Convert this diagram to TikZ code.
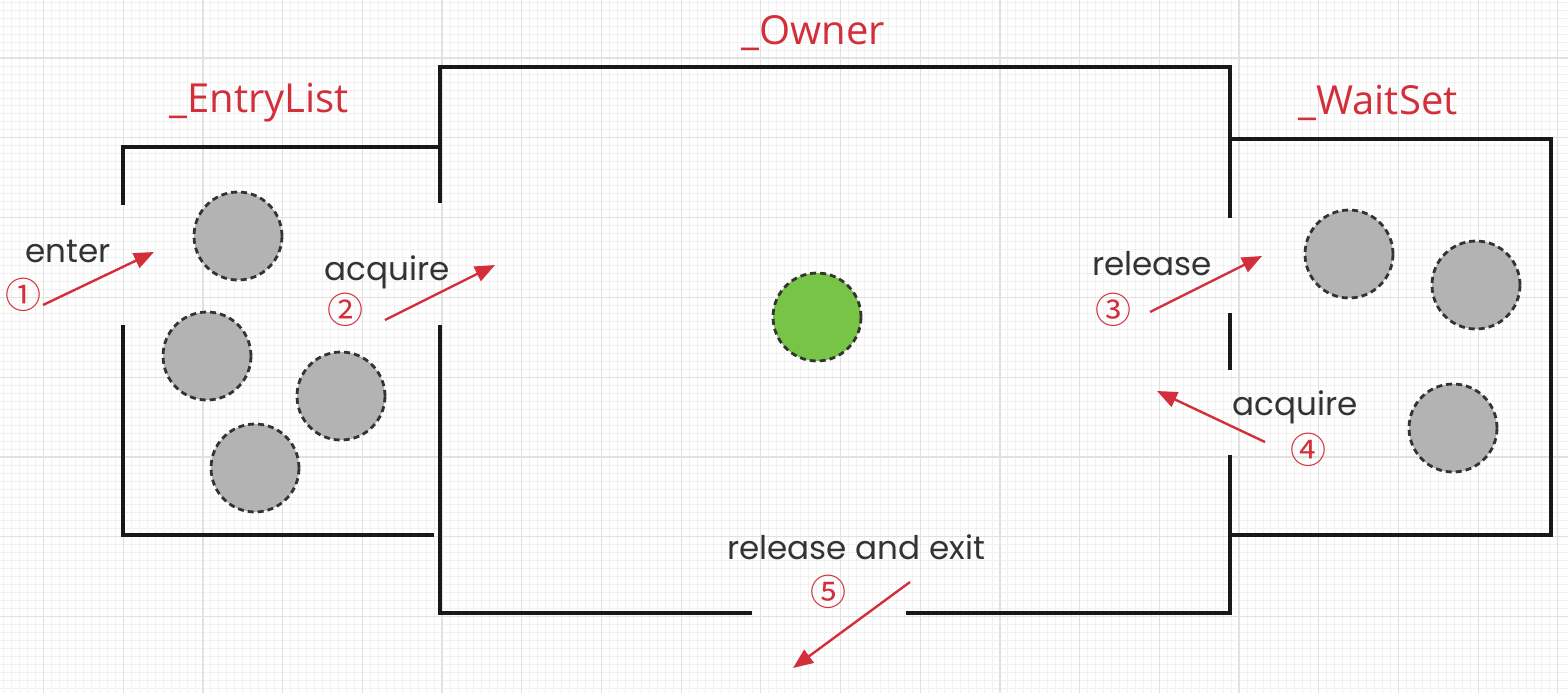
\documentclass[tikz,border=0pt]{standalone}
\usepackage{fontspec}
\usetikzlibrary{arrows.meta}
\newfontfamily\labelfont{Poppins}
\newfontfamily\titlefont{Open Sans}
\newfontfamily\digitfont{Noto Sans CJK SC}
\definecolor{MonRed}{HTML}{D32F3A}
\definecolor{ThreadGray}{HTML}{B3B3B3}
\definecolor{OwnerGreen}{HTML}{78C446}
\definecolor{GridMinor}{HTML}{F1F1F1}
\definecolor{GridMajor}{HTML}{E1E1E1}
\tikzset{
  wall/.style={line width=2pt, black!90},
  thread/.style={circle, draw=black!80, fill=ThreadGray, dash pattern=on 3pt off 2pt,
                 line width=1.4pt, minimum size=44pt, inner sep=0pt},
  ownerthread/.style={thread, fill=OwnerGreen},
  flow/.style={-{Triangle[length=10pt,width=8pt]}, line width=1.2pt, MonRed},
  lbl/.style={font=\labelfont\fontsize{16.3}{19}\selectfont, text=black!80},
  tag/.style={font=\digitfont\fontsize{18}{20}\selectfont, text=MonRed},
  title/.style={font=\titlefont\fontsize{20}{24}\selectfont, text=MonRed},
}
\begin{document}
\begin{tikzpicture}[x=0.5pt, y=-0.5pt]
  \useasboundingbox (0,0) rectangle (1568,693);
  \fill[white] (0,0) rectangle (1568,693);
  % grid paper
  \foreach \i in {-5,...,190} \draw[GridMinor, line width=0.4pt] ({43.5+7.97*\i},0) -- ({43.5+7.97*\i},693);
  \foreach \i in {-8,...,80} \draw[GridMinor, line width=0.4pt] (0,{58+7.98*\i}) -- (1568,{58+7.98*\i});
  \foreach \i in {-1,...,19} \draw[GridMajor, line width=0.6pt] ({43.5+79.7*\i},0) -- ({43.5+79.7*\i},693);
  \foreach \i in {-1,...,8} \draw[GridMajor, line width=0.6pt] (0,{58+79.8*\i}) -- (1568,{58+79.8*\i});

  % _EntryList
  \draw[wall] (123,205) |- (440,147);
  \draw[wall] (123,325) |- (434,535);
  % _Owner
  \draw[wall] (440,203) |- (1230,67) -- (1230,218);
  \draw[wall] (440,325) |- (752,613);
  \draw[wall] (906,613) -| (1230,455);
  \draw[wall] (1230,313) -- (1230,370);
  % _WaitSet
  \draw[wall] (1230,139) -| (1551,535) -- (1230,535);

  % titles
  \node[title] (tentry) at (259,103) {\_EntryList};
  \node[title] (towner) at (813,33) {\_Owner};
  \node[title] (twait) at (1378,103) {\_WaitSet};

  % threads
  \node[thread] (e1) at (238,236) {};
  \node[thread] (e2) at (207,356) {};
  \node[thread] (e3) at (341,396) {};
  \node[thread] (e4) at (255,468) {};
  \node[ownerthread] (o1) at (817,317) {};
  \node[thread] (w1) at (1349,254) {};
  \node[thread] (w2) at (1476,285) {};
  \node[thread] (w3) at (1453,428) {};

  % flows
  \coordinate (s1) at (43,305);   \coordinate (t1) at (154,252);
  \coordinate (s2) at (385,320);  \coordinate (t2) at (495,265);
  \coordinate (s3) at (1150,312); \coordinate (t3) at (1262,256);
  \coordinate (s4) at (1265,442); \coordinate (t4) at (1157,391);
  \coordinate (s5) at (910,582);  \coordinate (t5) at (793,668);
  \draw[flow] (s1) -- (t1);
  \draw[flow] (s2) -- (t2);
  \draw[flow] (s3) -- (t3);
  \draw[flow] (s4) -- (t4);
  \draw[flow] (s5) -- (t5);

  % labels
  \node[lbl] (lenter) at (68,251) {enter};
  \node[tag] (n1) at (23,295) {①};
  \node[lbl] (lacq) at (387,272) {acquire};
  \node[tag] (n2) at (345,310) {②};
  \node[lbl] (lrel) at (1152,264) {release};
  \node[tag] (n3) at (1113,310) {③};
  \node[lbl] (lacqw) at (1295,407) {acquire};
  \node[tag] (n4) at (1308,450) {④};
  \node[lbl] (lexit) at (856,547) {release and exit};
  \node[tag] (n5) at (828,592) {⑤};
\end{tikzpicture}
\end{document}
